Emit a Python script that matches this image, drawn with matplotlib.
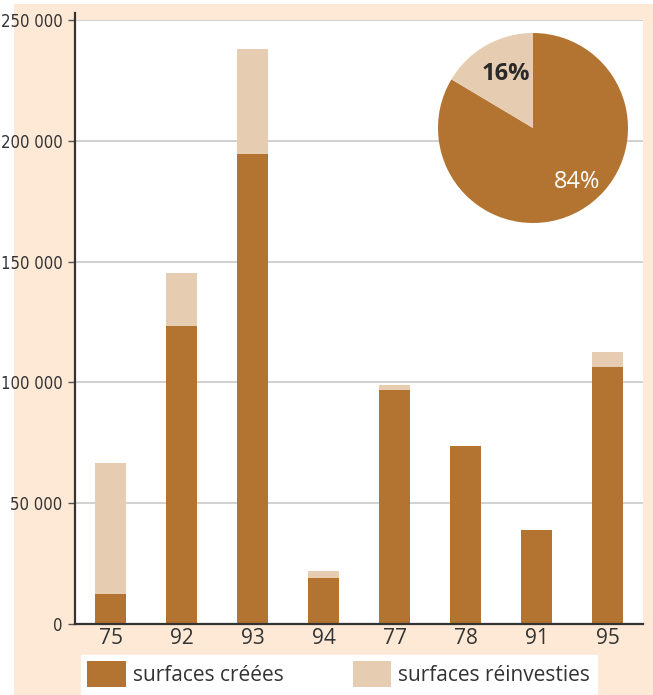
import numpy as np
import matplotlib.pyplot as plt
import matplotlib.patches as mpatches
from matplotlib import font_manager
from matplotlib.font_manager import FontProperties
from matplotlib.lines import Line2D

# Surfaces par département (m²)
departements = ['75', '92', '93', '94', '77', '78', '91', '95']
surfaces_creees = [12400, 123300, 194500, 19000, 96900, 73700, 38900, 106400]
surfaces_reinvesties = [54200, 22000, 43500, 2900, 2000, 0, 0, 6200]

BRUN = '#b37431'
BEIGE = '#e6ccb0'
PECHE = '#fde9d6'

# police étroite pour les graduations, si disponible
etroites = [f for f in font_manager.fontManager.ttflist
            if ('Narrow' in f.name or 'Condensed' in f.name or f.stretch in ('condensed', 'semi-condensed'))
            and f.style == 'normal' and f.weight in (400, 'normal', 'regular')]
if etroites:
    fp_y = FontProperties(fname=etroites[0].fname, size=12)
else:
    fp_y = FontProperties(family='Liberation Sans', size=10)
police = ['Open Sans', 'DejaVu Sans']

W, H = 653, 695
fig = plt.figure(figsize=(W / 100, H / 100), dpi=100, facecolor='white')

# fond pêche
fig.patches.append(mpatches.Rectangle((14 / W, 0), 1 - 14 / W, (H - 4) / H,
                                      transform=fig.transFigure, facecolor=PECHE,
                                      edgecolor='none', zorder=-10))

ax = fig.add_axes([75 / W, (H - 624) / H, (643 - 75) / W, (624 - 20) / H])
x = np.arange(len(departements))
b1 = ax.bar(x, surfaces_creees, width=0.44, color=BRUN, label='surfaces créées', zorder=3)
b2 = ax.bar(x, surfaces_reinvesties, width=0.44, bottom=surfaces_creees, color=BEIGE,
            label='surfaces réinvesties', zorder=3)

ax.set_xlim(-0.5, len(departements) - 0.5)
ax.set_ylim(0, 250000)
ax.set_yticks(np.arange(0, 250001, 50000))
ax.set_yticklabels([f'{v:,}'.replace(',', ' ') for v in range(0, 250001, 50000)],
                   fontproperties=fp_y, color='#333333')
ax.set_xticks(x)
ax.set_xticklabels(departements, fontsize=15, family=police, color='#333333')
ax.tick_params(axis='x', length=0, pad=3)
ax.tick_params(axis='y', length=5, width=1, color='#555555', pad=4)
ax.grid(axis='y', color='#c8c8c8', linewidth=1.2, zorder=0)
for s in ['top', 'right', 'left']:
    ax.spines[s].set_visible(False)
ax.spines['bottom'].set_color('#333333')
ax.spines['bottom'].set_linewidth(1.6)
ax.spines['bottom'].set_zorder(4)
ax.add_line(Line2D([0, 0], [0, 1.012], transform=ax.transAxes, color='#333333',
                   linewidth=1.6, clip_on=False, zorder=5))

# camembert de répartition
total_c = sum(surfaces_creees)
total_r = sum(surfaces_reinvesties)
part_c = round(100 * total_c / (total_c + total_r))
part_r = 100 - part_c
axp = fig.add_axes([438 / W, (H - 223) / H, 190 / W, 190 / H])
axp.pie([total_c, total_r], colors=[BRUN, BEIGE], startangle=90, counterclock=False,
        wedgeprops=dict(linewidth=0))
axp.set_xlim(-1, 1)
axp.set_ylim(-1, 1)
axp.set_aspect('equal')
axp.text(-0.29, 0.57, f'{part_r}%', ha='center', va='center', fontsize=17,
         fontweight='bold', color='#2a2a2a', family=police)
axp.text(0.46, -0.57, f'{part_c}%', ha='center', va='center', fontsize=17,
         color='white', family=police)

leg = ax.legend(handles=[b1, b2], loc='upper left', bbox_to_anchor=(81 / W, (H - 655) / H),
                bbox_transform=fig.transFigure, ncol=2, frameon=True, fancybox=False,
                framealpha=1, edgecolor='white', facecolor='white',
                prop={'family': police, 'size': 15}, handlelength=1.85, handleheight=1.55,
                handletextpad=0.35, columnspacing=3.3, borderpad=0.3, borderaxespad=0)
for t in leg.get_texts():
    t.set_color('#333333')

fig.savefig('out.png', dpi=100, facecolor='white')
